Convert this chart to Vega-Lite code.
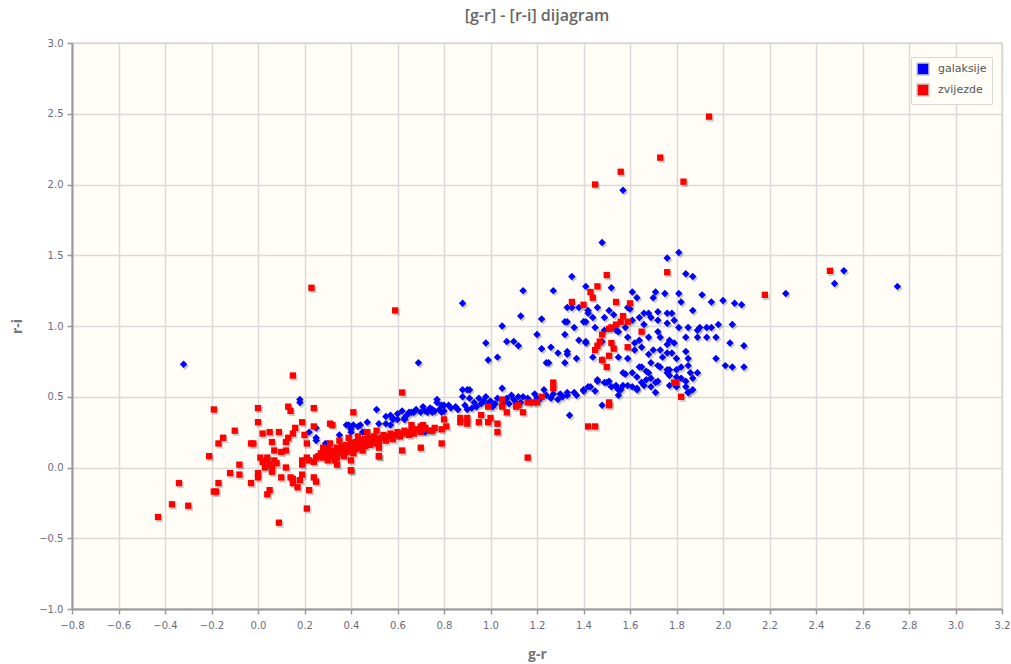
{
"$schema":"https://vega.github.io/schema/vega-lite/v6.json",
"width":930,"height":566,
"autosize":{"type":"none"},
"padding":{"left":72,"top":43,"right":9,"bottom":55},
"background":"#ffffff",
"title":{"text":"[g-r] - [r-i] dijagram","fontSize":16,"font":"Open Sans","fontWeight":600,"color":"#666666","offset":14,"anchor":"middle"},
"config":{
 "view":{"fill":"#fffdf6","stroke":"#d6d6d6","strokeWidth":1.5},
 "axis":{"domainColor":"#999999","domainWidth":2,"tickColor":"#999999","tickSize":5,"tickWidth":1.5,"gridColor":"#dadada","gridWidth":1.5,"labelFont":"DejaVu Sans","labelFontSize":10,"labelColor":"#6b6b7d","titleFont":"Open Sans","titleFontSize":14,"titleColor":"#777777","titleFontWeight":"bold","labelFlush":false,"labelOverlap":false}
},
"data":{"values":[
{"klasa":"galaksije","gr":-0.32,"ri":0.73},{"klasa":"galaksije","gr":1.57,"ri":1.96},{"klasa":"galaksije","gr":1.48,"ri":1.59},{"klasa":"galaksije","gr":1.81,"ri":1.52},{"klasa":"galaksije","gr":1.76,"ri":1.48},{"klasa":"galaksije","gr":1.14,"ri":1.25},{"klasa":"galaksije","gr":1.35,"ri":1.35},{"klasa":"galaksije","gr":0.88,"ri":1.16},{"klasa":"galaksije","gr":2.27,"ri":1.23},{"klasa":"galaksije","gr":2.48,"ri":1.30},{"klasa":"galaksije","gr":2.52,"ri":1.39},{"klasa":"galaksije","gr":2.75,"ri":1.28},{"klasa":"galaksije","gr":0.69,"ri":0.74},{"klasa":"galaksije","gr":0.18,"ri":0.48},
{"klasa":"galaksije","gr":0.18,"ri":0.46},{"klasa":"galaksije","gr":0.22,"ri":0.25},{"klasa":"galaksije","gr":0.25,"ri":0.28},{"klasa":"galaksije","gr":0.25,"ri":0.19},{"klasa":"galaksije","gr":0.29,"ri":0.17},{"klasa":"galaksije","gr":0.35,"ri":0.23},{"klasa":"galaksije","gr":0.39,"ri":0.30},{"klasa":"galaksije","gr":0.41,"ri":0.30},{"klasa":"galaksije","gr":0.44,"ri":0.30},{"klasa":"galaksije","gr":0.47,"ri":0.32},{"klasa":"galaksije","gr":0.51,"ri":0.41},{"klasa":"galaksije","gr":0.52,"ri":0.31},{"klasa":"galaksije","gr":0.57,"ri":0.37},{"klasa":"galaksije","gr":0.60,"ri":0.38},{"klasa":"galaksije","gr":0.60,"ri":0.34},{"klasa":"galaksije","gr":0.63,"ri":0.34},{"klasa":"galaksije","gr":0.66,"ri":0.39},{"klasa":"galaksije","gr":0.70,"ri":0.39},{"klasa":"galaksije","gr":0.73,"ri":0.39},{"klasa":"galaksije","gr":0.77,"ri":0.48},{"klasa":"galaksije","gr":0.80,"ri":0.44},{"klasa":"galaksije","gr":0.75,"ri":0.39},{"klasa":"galaksije","gr":0.79,"ri":0.39},{"klasa":"galaksije","gr":0.72,"ri":0.25},{"klasa":"galaksije","gr":0.57,"ri":0.30},{"klasa":"galaksije","gr":0.45,"ri":0.25},{"klasa":"galaksije","gr":0.40,"ri":0.25},
{"klasa":"galaksije","gr":0.99,"ri":0.76},{"klasa":"galaksije","gr":1.24,"ri":0.74},{"klasa":"galaksije","gr":1.32,"ri":0.74},{"klasa":"galaksije","gr":1.48,"ri":0.76},
{"klasa":"galaksije","gr":0.67,"ri":0.39},{"klasa":"galaksije","gr":0.72,"ri":0.40},{"klasa":"galaksije","gr":0.75,"ri":0.41},{"klasa":"galaksije","gr":0.77,"ri":0.46},{"klasa":"galaksije","gr":0.79,"ri":0.44},{"klasa":"galaksije","gr":0.83,"ri":0.42},{"klasa":"galaksije","gr":0.80,"ri":0.40},{"klasa":"galaksije","gr":0.88,"ri":0.55},{"klasa":"galaksije","gr":0.90,"ri":0.55},{"klasa":"galaksije","gr":0.88,"ri":0.50},{"klasa":"galaksije","gr":0.91,"ri":0.49},{"klasa":"galaksije","gr":0.89,"ri":0.44},{"klasa":"galaksije","gr":0.90,"ri":0.41},{"klasa":"galaksije","gr":0.92,"ri":0.42},{"klasa":"galaksije","gr":0.95,"ri":0.49},{"klasa":"galaksije","gr":0.96,"ri":0.45},{"klasa":"galaksije","gr":0.98,"ri":0.50},{"klasa":"galaksije","gr":0.99,"ri":0.45},{"klasa":"galaksije","gr":1.01,"ri":0.43},{"klasa":"galaksije","gr":1.03,"ri":0.49},{"klasa":"galaksije","gr":1.05,"ri":0.56},{"klasa":"galaksije","gr":1.05,"ri":0.44},{"klasa":"galaksije","gr":1.07,"ri":0.49},{"klasa":"galaksije","gr":1.09,"ri":0.51},{"klasa":"galaksije","gr":1.11,"ri":0.46},{"klasa":"galaksije","gr":1.12,"ri":0.50},{"klasa":"galaksije","gr":1.13,"ri":0.46},{"klasa":"galaksije","gr":1.16,"ri":0.49},{"klasa":"galaksije","gr":1.19,"ri":0.52},{"klasa":"galaksije","gr":1.21,"ri":0.48},{"klasa":"galaksije","gr":1.23,"ri":0.55},{"klasa":"galaksije","gr":1.26,"ri":0.49},{"klasa":"galaksije","gr":1.29,"ri":0.48},{"klasa":"galaksije","gr":1.33,"ri":0.53},{"klasa":"galaksije","gr":1.34,"ri":0.37},{"klasa":"galaksije","gr":1.36,"ri":0.53},{"klasa":"galaksije","gr":1.40,"ri":0.54},{"klasa":"galaksije","gr":1.42,"ri":0.57},{"klasa":"galaksije","gr":1.45,"ri":0.54},{"klasa":"galaksije","gr":1.46,"ri":0.61},{"klasa":"galaksije","gr":1.48,"ri":0.44},{"klasa":"galaksije","gr":1.50,"ri":0.60},{"klasa":"galaksije","gr":1.52,"ri":0.57},{"klasa":"galaksije","gr":1.54,"ri":0.58},{"klasa":"galaksije","gr":1.55,"ri":0.55},{"klasa":"galaksije","gr":1.57,"ri":0.67},{"klasa":"galaksije","gr":1.59,"ri":0.58},{"klasa":"galaksije","gr":1.61,"ri":0.67},{"klasa":"galaksije","gr":1.63,"ri":0.56},{"klasa":"galaksije","gr":1.64,"ri":0.71},{"klasa":"galaksije","gr":1.67,"ri":0.62},{"klasa":"galaksije","gr":1.68,"ri":0.67},{"klasa":"galaksije","gr":1.71,"ri":0.60},{"klasa":"galaksije","gr":1.72,"ri":0.72},{"klasa":"galaksije","gr":1.76,"ri":0.69},{"klasa":"galaksije","gr":1.77,"ri":0.65},{"klasa":"galaksije","gr":1.80,"ri":0.69},{"klasa":"galaksije","gr":1.82,"ri":0.71},{"klasa":"galaksije","gr":1.85,"ri":0.72},{"klasa":"galaksije","gr":1.86,"ri":0.67},{"klasa":"galaksije","gr":1.87,"ri":0.55},{"klasa":"galaksije","gr":1.85,"ri":0.53},{"klasa":"galaksije","gr":1.89,"ri":0.67},
{"klasa":"galaksije","gr":1.41,"ri":1.28},{"klasa":"galaksije","gr":1.52,"ri":1.27},{"klasa":"galaksije","gr":1.61,"ri":1.24},{"klasa":"galaksije","gr":1.63,"ri":1.20},{"klasa":"galaksije","gr":1.71,"ri":1.24},{"klasa":"galaksije","gr":1.70,"ri":1.20},{"klasa":"galaksije","gr":1.75,"ri":1.23},{"klasa":"galaksije","gr":1.81,"ri":1.23},{"klasa":"galaksije","gr":1.82,"ri":1.17},{"klasa":"galaksije","gr":1.84,"ri":1.37},{"klasa":"galaksije","gr":1.87,"ri":1.35},{"klasa":"galaksije","gr":1.91,"ri":1.22},{"klasa":"galaksije","gr":1.95,"ri":1.17},{"klasa":"galaksije","gr":2.00,"ri":1.18},{"klasa":"galaksije","gr":2.05,"ri":1.16},{"klasa":"galaksije","gr":2.08,"ri":1.15},
{"klasa":"galaksije","gr":1.33,"ri":1.13},{"klasa":"galaksije","gr":1.38,"ri":1.13},{"klasa":"galaksije","gr":1.42,"ri":1.11},{"klasa":"galaksije","gr":1.46,"ri":1.13},{"klasa":"galaksije","gr":1.51,"ri":1.11},{"klasa":"galaksije","gr":1.53,"ri":1.08},{"klasa":"galaksije","gr":1.59,"ri":1.13},{"klasa":"galaksije","gr":1.60,"ri":1.12},
{"klasa":"galaksije","gr":1.33,"ri":1.03},{"klasa":"galaksije","gr":1.36,"ri":0.99},{"klasa":"galaksije","gr":1.41,"ri":1.03},{"klasa":"galaksije","gr":1.44,"ri":1.06},{"klasa":"galaksije","gr":1.45,"ri":0.99},{"klasa":"galaksije","gr":1.49,"ri":1.06},{"klasa":"galaksije","gr":1.49,"ri":0.97},{"klasa":"galaksije","gr":1.54,"ri":0.97},{"klasa":"galaksije","gr":1.55,"ri":0.96},{"klasa":"galaksije","gr":1.58,"ri":0.99},{"klasa":"galaksije","gr":1.61,"ri":1.04},{"klasa":"galaksije","gr":1.64,"ri":1.06},{"klasa":"galaksije","gr":1.66,"ri":1.09},{"klasa":"galaksije","gr":1.68,"ri":1.09},{"klasa":"galaksije","gr":1.69,"ri":1.06},{"klasa":"galaksije","gr":1.72,"ri":1.10},{"klasa":"galaksije","gr":1.72,"ri":1.04},{"klasa":"galaksije","gr":1.66,"ri":1.01},{"klasa":"galaksije","gr":1.76,"ri":1.09},{"klasa":"galaksije","gr":1.78,"ri":1.09},{"klasa":"galaksije","gr":1.79,"ri":1.04},{"klasa":"galaksije","gr":1.76,"ri":1.02},{"klasa":"galaksije","gr":1.81,"ri":0.99},{"klasa":"galaksije","gr":1.85,"ri":0.99},{"klasa":"galaksije","gr":1.87,"ri":1.11},{"klasa":"galaksije","gr":1.89,"ri":0.97},{"klasa":"galaksije","gr":1.90,"ri":0.99},{"klasa":"galaksije","gr":1.93,"ri":0.99},{"klasa":"galaksije","gr":1.95,"ri":0.99},{"klasa":"galaksije","gr":1.98,"ri":1.01},{"klasa":"galaksije","gr":2.04,"ri":1.01},
{"klasa":"galaksije","gr":1.32,"ri":0.94},{"klasa":"galaksije","gr":1.38,"ri":0.90},{"klasa":"galaksije","gr":1.41,"ri":0.88},{"klasa":"galaksije","gr":1.48,"ri":0.89},{"klasa":"galaksije","gr":1.59,"ri":0.92},{"klasa":"galaksije","gr":1.62,"ri":0.88},{"klasa":"galaksije","gr":1.64,"ri":0.90},{"klasa":"galaksije","gr":1.68,"ri":0.92},{"klasa":"galaksije","gr":1.72,"ri":0.96},{"klasa":"galaksije","gr":1.73,"ri":0.92},{"klasa":"galaksije","gr":1.76,"ri":0.87},{"klasa":"galaksije","gr":1.77,"ri":0.90},{"klasa":"galaksije","gr":1.79,"ri":0.88},{"klasa":"galaksije","gr":1.84,"ri":0.92},{"klasa":"galaksije","gr":1.89,"ri":0.92},{"klasa":"galaksije","gr":1.93,"ri":0.92},{"klasa":"galaksije","gr":1.97,"ri":0.92},{"klasa":"galaksije","gr":2.03,"ri":0.88},{"klasa":"galaksije","gr":2.09,"ri":0.86},
{"klasa":"galaksije","gr":1.33,"ri":0.80},{"klasa":"galaksije","gr":1.37,"ri":0.77},{"klasa":"galaksije","gr":1.44,"ri":0.78},{"klasa":"galaksije","gr":1.55,"ri":0.78},{"klasa":"galaksije","gr":1.59,"ri":0.77},{"klasa":"galaksije","gr":1.62,"ri":0.83},{"klasa":"galaksije","gr":1.65,"ri":0.85},{"klasa":"galaksije","gr":1.68,"ri":0.80},{"klasa":"galaksije","gr":1.70,"ri":0.83},{"klasa":"galaksije","gr":1.73,"ri":0.83},{"klasa":"galaksije","gr":1.74,"ri":0.78},{"klasa":"galaksije","gr":1.76,"ri":0.81},{"klasa":"galaksije","gr":1.78,"ri":0.81},{"klasa":"galaksije","gr":1.80,"ri":0.77},{"klasa":"galaksije","gr":1.84,"ri":0.82},{"klasa":"galaksije","gr":1.85,"ri":0.77},{"klasa":"galaksije","gr":1.97,"ri":0.77},
{"klasa":"galaksije","gr":1.65,"ri":0.71},{"klasa":"galaksije","gr":1.69,"ri":0.74},{"klasa":"galaksije","gr":1.73,"ri":0.71},{"klasa":"galaksije","gr":1.77,"ri":0.69},{"klasa":"galaksije","gr":2.01,"ri":0.72},{"klasa":"galaksije","gr":2.04,"ri":0.71},{"klasa":"galaksije","gr":2.09,"ri":0.71},
{"klasa":"galaksije","gr":1.58,"ri":0.66},{"klasa":"galaksije","gr":1.63,"ri":0.64},{"klasa":"galaksije","gr":1.67,"ri":0.68},{"klasa":"galaksije","gr":1.69,"ri":0.63},{"klasa":"galaksije","gr":1.72,"ri":0.61},{"klasa":"galaksije","gr":1.76,"ri":0.67},{"klasa":"galaksije","gr":1.80,"ri":0.64},{"klasa":"galaksije","gr":1.82,"ri":0.63},{"klasa":"galaksije","gr":1.84,"ri":0.61},{"klasa":"galaksije","gr":1.87,"ri":0.63},
{"klasa":"galaksije","gr":1.46,"ri":0.62},{"klasa":"galaksije","gr":1.49,"ri":0.60},{"klasa":"galaksije","gr":1.51,"ri":0.61},{"klasa":"galaksije","gr":1.54,"ri":0.57},{"klasa":"galaksije","gr":1.57,"ri":0.58},{"klasa":"galaksije","gr":1.56,"ri":0.55},{"klasa":"galaksije","gr":1.61,"ri":0.57},{"klasa":"galaksije","gr":1.63,"ri":0.55},{"klasa":"galaksije","gr":1.65,"ri":0.60},{"klasa":"galaksije","gr":1.66,"ri":0.58},{"klasa":"galaksije","gr":1.69,"ri":0.57},{"klasa":"galaksije","gr":1.71,"ri":0.53},{"klasa":"galaksije","gr":1.77,"ri":0.58},{"klasa":"galaksije","gr":1.80,"ri":0.57},{"klasa":"galaksije","gr":1.84,"ri":0.57},{"klasa":"galaksije","gr":1.85,"ri":0.53},
{"klasa":"galaksije","gr":1.43,"ri":0.57},{"klasa":"galaksije","gr":1.40,"ri":0.55},{"klasa":"galaksije","gr":1.37,"ri":0.51},{"klasa":"galaksije","gr":1.33,"ri":0.51},{"klasa":"galaksije","gr":1.31,"ri":0.50},{"klasa":"galaksije","gr":1.55,"ri":0.51},
{"klasa":"galaksije","gr":1.13,"ri":1.07},{"klasa":"galaksije","gr":1.05,"ri":1.00},{"klasa":"galaksije","gr":1.22,"ri":1.05},{"klasa":"galaksije","gr":0.98,"ri":0.88},{"klasa":"galaksije","gr":1.07,"ri":0.89},{"klasa":"galaksije","gr":1.10,"ri":0.89},{"klasa":"galaksije","gr":1.12,"ri":0.86},{"klasa":"galaksije","gr":1.03,"ri":0.78},{"klasa":"galaksije","gr":1.20,"ri":0.94},{"klasa":"galaksije","gr":1.22,"ri":0.84},{"klasa":"galaksije","gr":1.26,"ri":0.85},{"klasa":"galaksije","gr":1.29,"ri":0.81},{"klasa":"galaksije","gr":1.25,"ri":0.74},{"klasa":"galaksije","gr":1.32,"ri":1.03},{"klasa":"galaksije","gr":1.27,"ri":1.25},{"klasa":"galaksije","gr":1.33,"ri":0.82},{"klasa":"galaksije","gr":1.41,"ri":0.89},{"klasa":"galaksije","gr":1.40,"ri":1.03},{"klasa":"galaksije","gr":1.35,"ri":1.13},{"klasa":"galaksije","gr":1.42,"ri":1.09},{"klasa":"galaksije","gr":0.91,"ri":0.55},
{"klasa":"galaksije","gr":0.55,"ri":0.36},{"klasa":"galaksije","gr":0.58,"ri":0.35},{"klasa":"galaksije","gr":0.62,"ri":0.40},{"klasa":"galaksije","gr":0.64,"ri":0.37},{"klasa":"galaksije","gr":0.68,"ri":0.41},{"klasa":"galaksije","gr":0.71,"ri":0.43},{"klasa":"galaksije","gr":0.74,"ri":0.42},{"klasa":"galaksije","gr":0.76,"ri":0.40},{"klasa":"galaksije","gr":0.78,"ri":0.41},{"klasa":"galaksije","gr":0.82,"ri":0.44},{"klasa":"galaksije","gr":0.85,"ri":0.43},{"klasa":"galaksije","gr":0.86,"ri":0.41},{"klasa":"galaksije","gr":0.93,"ri":0.46},{"klasa":"galaksije","gr":0.94,"ri":0.43},{"klasa":"galaksije","gr":0.97,"ri":0.47},{"klasa":"galaksije","gr":1.00,"ri":0.47},{"klasa":"galaksije","gr":1.02,"ri":0.45},{"klasa":"galaksije","gr":1.06,"ri":0.47},{"klasa":"galaksije","gr":1.08,"ri":0.45},{"klasa":"galaksije","gr":1.10,"ri":0.48},{"klasa":"galaksije","gr":1.14,"ri":0.50},{"klasa":"galaksije","gr":1.17,"ri":0.47},{"klasa":"galaksije","gr":1.20,"ri":0.49},{"klasa":"galaksije","gr":1.24,"ri":0.51},{"klasa":"galaksije","gr":1.27,"ri":0.52},{"klasa":"galaksije","gr":1.30,"ri":0.52},
{"klasa":"galaksije","gr":0.38,"ri":0.30},{"klasa":"galaksije","gr":0.43,"ri":0.29},{"klasa":"galaksije","gr":0.40,"ri":0.27},{"klasa":"galaksije","gr":0.46,"ri":0.25},{"klasa":"galaksije","gr":0.55,"ri":0.31},{"klasa":"galaksije","gr":0.58,"ri":0.34},{"klasa":"galaksije","gr":0.63,"ri":0.35},{"klasa":"galaksije","gr":0.65,"ri":0.39},{"klasa":"galaksije","gr":0.30,"ri":0.17},{"klasa":"galaksije","gr":0.25,"ri":0.21},
{"klasa":"zvijezde","gr":0.23,"ri":1.27},{"klasa":"zvijezde","gr":0.59,"ri":1.11},{"klasa":"zvijezde","gr":1.94,"ri":2.48},{"klasa":"zvijezde","gr":1.73,"ri":2.19},{"klasa":"zvijezde","gr":1.56,"ri":2.09},{"klasa":"zvijezde","gr":1.83,"ri":2.02},{"klasa":"zvijezde","gr":1.45,"ri":2.00},{"klasa":"zvijezde","gr":2.18,"ri":1.22},{"klasa":"zvijezde","gr":2.46,"ri":1.39},{"klasa":"zvijezde","gr":-0.43,"ri":-0.35},{"klasa":"zvijezde","gr":0.15,"ri":0.65},{"klasa":"zvijezde","gr":1.16,"ri":0.07},{"klasa":"zvijezde","gr":1.45,"ri":0.29},{"klasa":"zvijezde","gr":1.42,"ri":0.29},{"klasa":"zvijezde","gr":1.51,"ri":0.46},{"klasa":"zvijezde","gr":1.82,"ri":0.50},{"klasa":"zvijezde","gr":0.09,"ri":-0.39},{"klasa":"zvijezde","gr":0.21,"ri":-0.29},
{"klasa":"zvijezde","gr":-0.37,"ri":-0.26},{"klasa":"zvijezde","gr":-0.30,"ri":-0.27},{"klasa":"zvijezde","gr":-0.34,"ri":-0.11},{"klasa":"zvijezde","gr":-0.19,"ri":-0.17},{"klasa":"zvijezde","gr":-0.18,"ri":-0.17},{"klasa":"zvijezde","gr":-0.17,"ri":-0.11},{"klasa":"zvijezde","gr":-0.21,"ri":0.08},{"klasa":"zvijezde","gr":-0.19,"ri":0.41},{"klasa":"zvijezde","gr":-0.17,"ri":0.17},{"klasa":"zvijezde","gr":-0.15,"ri":0.21},{"klasa":"zvijezde","gr":-0.10,"ri":0.26},{"klasa":"zvijezde","gr":-0.12,"ri":-0.04},{"klasa":"zvijezde","gr":-0.08,"ri":-0.05},{"klasa":"zvijezde","gr":-0.08,"ri":0.02},{"klasa":"zvijezde","gr":0.00,"ri":0.32},{"klasa":"zvijezde","gr":0.00,"ri":0.42},{"klasa":"zvijezde","gr":-0.03,"ri":0.17},{"klasa":"zvijezde","gr":-0.02,"ri":0.17},{"klasa":"zvijezde","gr":-0.03,"ri":-0.11},{"klasa":"zvijezde","gr":0.00,"ri":-0.07},{"klasa":"zvijezde","gr":0.00,"ri":-0.04},{"klasa":"zvijezde","gr":0.04,"ri":-0.19},{"klasa":"zvijezde","gr":0.05,"ri":-0.16},{"klasa":"zvijezde","gr":0.01,"ri":0.07},{"klasa":"zvijezde","gr":0.02,"ri":0.04},{"klasa":"zvijezde","gr":0.04,"ri":0.05},{"klasa":"zvijezde","gr":0.05,"ri":0.02},{"klasa":"zvijezde","gr":0.03,"ri":0.00},{"klasa":"zvijezde","gr":0.06,"ri":0.00},{"klasa":"zvijezde","gr":0.08,"ri":0.03},{"klasa":"zvijezde","gr":0.07,"ri":0.05},{"klasa":"zvijezde","gr":0.04,"ri":0.07},{"klasa":"zvijezde","gr":0.06,"ri":-0.03},{"klasa":"zvijezde","gr":0.02,"ri":0.24},{"klasa":"zvijezde","gr":0.05,"ri":0.25},{"klasa":"zvijezde","gr":0.09,"ri":0.25},{"klasa":"zvijezde","gr":0.06,"ri":0.18},{"klasa":"zvijezde","gr":0.07,"ri":0.12},{"klasa":"zvijezde","gr":0.10,"ri":0.11},{"klasa":"zvijezde","gr":0.12,"ri":0.12},{"klasa":"zvijezde","gr":0.12,"ri":0.18},{"klasa":"zvijezde","gr":0.13,"ri":0.21},{"klasa":"zvijezde","gr":0.15,"ri":0.24},{"klasa":"zvijezde","gr":0.16,"ri":0.28},{"klasa":"zvijezde","gr":0.13,"ri":0.43},{"klasa":"zvijezde","gr":0.14,"ri":0.40},{"klasa":"zvijezde","gr":0.19,"ri":0.32},{"klasa":"zvijezde","gr":0.10,"ri":-0.07},{"klasa":"zvijezde","gr":0.14,"ri":-0.07},{"klasa":"zvijezde","gr":0.12,"ri":0.00},{"klasa":"zvijezde","gr":0.15,"ri":-0.11},{"klasa":"zvijezde","gr":0.17,"ri":-0.14},{"klasa":"zvijezde","gr":0.18,"ri":-0.09},{"klasa":"zvijezde","gr":0.15,"ri":-0.08},{"klasa":"zvijezde","gr":0.19,"ri":-0.05},{"klasa":"zvijezde","gr":0.19,"ri":0.02},{"klasa":"zvijezde","gr":0.19,"ri":0.05},{"klasa":"zvijezde","gr":0.21,"ri":0.07},{"klasa":"zvijezde","gr":0.22,"ri":-0.16},{"klasa":"zvijezde","gr":0.24,"ri":-0.07},{"klasa":"zvijezde","gr":0.25,"ri":-0.10},{"klasa":"zvijezde","gr":0.24,"ri":0.42},{"klasa":"zvijezde","gr":0.20,"ri":0.23},{"klasa":"zvijezde","gr":0.21,"ri":0.17},{"klasa":"zvijezde","gr":0.24,"ri":0.29},{"klasa":"zvijezde","gr":0.22,"ri":0.05},{"klasa":"zvijezde","gr":0.24,"ri":0.04},{"klasa":"zvijezde","gr":0.25,"ri":0.07},
{"klasa":"zvijezde","gr":0.26,"ri":0.08},{"klasa":"zvijezde","gr":0.27,"ri":0.10},{"klasa":"zvijezde","gr":0.28,"ri":0.07},{"klasa":"zvijezde","gr":0.29,"ri":0.11},{"klasa":"zvijezde","gr":0.30,"ri":0.09},{"klasa":"zvijezde","gr":0.30,"ri":0.13},{"klasa":"zvijezde","gr":0.31,"ri":0.08},{"klasa":"zvijezde","gr":0.32,"ri":0.12},{"klasa":"zvijezde","gr":0.33,"ri":0.10},{"klasa":"zvijezde","gr":0.34,"ri":0.14},{"klasa":"zvijezde","gr":0.34,"ri":0.07},{"klasa":"zvijezde","gr":0.35,"ri":0.12},{"klasa":"zvijezde","gr":0.36,"ri":0.15},{"klasa":"zvijezde","gr":0.36,"ri":0.10},{"klasa":"zvijezde","gr":0.37,"ri":0.13},{"klasa":"zvijezde","gr":0.38,"ri":0.11},{"klasa":"zvijezde","gr":0.38,"ri":0.16},{"klasa":"zvijezde","gr":0.39,"ri":0.14},{"klasa":"zvijezde","gr":0.40,"ri":0.12},{"klasa":"zvijezde","gr":0.40,"ri":0.17},{"klasa":"zvijezde","gr":0.41,"ri":0.15},{"klasa":"zvijezde","gr":0.42,"ri":0.13},{"klasa":"zvijezde","gr":0.42,"ri":0.18},{"klasa":"zvijezde","gr":0.43,"ri":0.16},{"klasa":"zvijezde","gr":0.44,"ri":0.14},{"klasa":"zvijezde","gr":0.44,"ri":0.19},{"klasa":"zvijezde","gr":0.45,"ri":0.17},{"klasa":"zvijezde","gr":0.46,"ri":0.15},{"klasa":"zvijezde","gr":0.46,"ri":0.20},{"klasa":"zvijezde","gr":0.47,"ri":0.18},{"klasa":"zvijezde","gr":0.48,"ri":0.16},{"klasa":"zvijezde","gr":0.48,"ri":0.21},{"klasa":"zvijezde","gr":0.49,"ri":0.19},{"klasa":"zvijezde","gr":0.50,"ri":0.17},{"klasa":"zvijezde","gr":0.50,"ri":0.22},{"klasa":"zvijezde","gr":0.51,"ri":0.20},{"klasa":"zvijezde","gr":0.52,"ri":0.18},{"klasa":"zvijezde","gr":0.53,"ri":0.21},{"klasa":"zvijezde","gr":0.54,"ri":0.23},{"klasa":"zvijezde","gr":0.55,"ri":0.19},{"klasa":"zvijezde","gr":0.56,"ri":0.22},{"klasa":"zvijezde","gr":0.57,"ri":0.24},{"klasa":"zvijezde","gr":0.58,"ri":0.20},{"klasa":"zvijezde","gr":0.59,"ri":0.23},{"klasa":"zvijezde","gr":0.60,"ri":0.25},{"klasa":"zvijezde","gr":0.61,"ri":0.22},{"klasa":"zvijezde","gr":0.62,"ri":0.24},{"klasa":"zvijezde","gr":0.63,"ri":0.26},{"klasa":"zvijezde","gr":0.65,"ri":0.23},{"klasa":"zvijezde","gr":0.66,"ri":0.26},{"klasa":"zvijezde","gr":0.68,"ri":0.27},{"klasa":"zvijezde","gr":0.70,"ri":0.25},{"klasa":"zvijezde","gr":0.72,"ri":0.28},{"klasa":"zvijezde","gr":0.74,"ri":0.26},{"klasa":"zvijezde","gr":0.76,"ri":0.28},{"klasa":"zvijezde","gr":0.79,"ri":0.27},{"klasa":"zvijezde","gr":0.81,"ri":0.29},{"klasa":"zvijezde","gr":0.33,"ri":0.05},{"klasa":"zvijezde","gr":0.37,"ri":0.08},{"klasa":"zvijezde","gr":0.41,"ri":0.10},{"klasa":"zvijezde","gr":0.45,"ri":0.12},{"klasa":"zvijezde","gr":0.52,"ri":0.14},{"klasa":"zvijezde","gr":0.28,"ri":0.14},{"klasa":"zvijezde","gr":0.31,"ri":0.17},{"klasa":"zvijezde","gr":0.35,"ri":0.19},{"klasa":"zvijezde","gr":0.39,"ri":0.21},{"klasa":"zvijezde","gr":0.43,"ri":0.22},{"klasa":"zvijezde","gr":0.47,"ri":0.25},{"klasa":"zvijezde","gr":0.51,"ri":0.26},{"klasa":"zvijezde","gr":0.30,"ri":0.05},{"klasa":"zvijezde","gr":0.34,"ri":0.02},{"klasa":"zvijezde","gr":0.40,"ri":-0.02},{"klasa":"zvijezde","gr":0.32,"ri":0.30},{"klasa":"zvijezde","gr":0.41,"ri":0.39},{"klasa":"zvijezde","gr":0.62,"ri":0.53},{"klasa":"zvijezde","gr":0.40,"ri":0.05},{"klasa":"zvijezde","gr":0.52,"ri":0.08},{"klasa":"zvijezde","gr":0.62,"ri":0.12},{"klasa":"zvijezde","gr":0.70,"ri":0.14},{"klasa":"zvijezde","gr":0.79,"ri":0.17},{"klasa":"zvijezde","gr":0.80,"ri":0.34},
{"klasa":"zvijezde","gr":0.64,"ri":0.25},{"klasa":"zvijezde","gr":0.67,"ri":0.24},{"klasa":"zvijezde","gr":0.70,"ri":0.29},{"klasa":"zvijezde","gr":0.71,"ri":0.27},{"klasa":"zvijezde","gr":0.87,"ri":0.32},{"klasa":"zvijezde","gr":0.90,"ri":0.35},{"klasa":"zvijezde","gr":0.90,"ri":0.31},{"klasa":"zvijezde","gr":0.95,"ri":0.32},{"klasa":"zvijezde","gr":0.99,"ri":0.32},{"klasa":"zvijezde","gr":1.00,"ri":0.35},{"klasa":"zvijezde","gr":0.96,"ri":0.37},{"klasa":"zvijezde","gr":0.99,"ri":0.43},{"klasa":"zvijezde","gr":1.03,"ri":0.31},{"klasa":"zvijezde","gr":1.03,"ri":0.25},{"klasa":"zvijezde","gr":1.05,"ri":0.43},{"klasa":"zvijezde","gr":1.05,"ri":0.48},{"klasa":"zvijezde","gr":1.07,"ri":0.39},{"klasa":"zvijezde","gr":1.11,"ri":0.43},{"klasa":"zvijezde","gr":1.12,"ri":0.44},{"klasa":"zvijezde","gr":1.14,"ri":0.39},{"klasa":"zvijezde","gr":1.16,"ri":0.46},{"klasa":"zvijezde","gr":1.18,"ri":0.46},{"klasa":"zvijezde","gr":1.20,"ri":0.46},{"klasa":"zvijezde","gr":1.22,"ri":0.50},{"klasa":"zvijezde","gr":1.27,"ri":0.60},{"klasa":"zvijezde","gr":1.27,"ri":0.56},{"klasa":"zvijezde","gr":1.50,"ri":0.71},{"klasa":"zvijezde","gr":1.80,"ri":0.60},{"klasa":"zvijezde","gr":0.87,"ri":0.35},{"klasa":"zvijezde","gr":0.66,"ri":0.30},{"klasa":"zvijezde","gr":0.71,"ri":0.30},{"klasa":"zvijezde","gr":0.75,"ri":0.26},{"klasa":"zvijezde","gr":0.52,"ri":0.08},{"klasa":"zvijezde","gr":0.40,"ri":-0.02},{"klasa":"zvijezde","gr":0.31,"ri":0.31},
{"klasa":"zvijezde","gr":1.50,"ri":1.36},{"klasa":"zvijezde","gr":1.46,"ri":1.28},{"klasa":"zvijezde","gr":1.43,"ri":1.24},{"klasa":"zvijezde","gr":1.44,"ri":1.20},{"klasa":"zvijezde","gr":1.35,"ri":1.17},{"klasa":"zvijezde","gr":1.40,"ri":1.15},{"klasa":"zvijezde","gr":1.54,"ri":1.17},{"klasa":"zvijezde","gr":1.60,"ri":1.16},{"klasa":"zvijezde","gr":1.76,"ri":1.38},{"klasa":"zvijezde","gr":1.57,"ri":1.07},{"klasa":"zvijezde","gr":1.56,"ri":1.03},{"klasa":"zvijezde","gr":1.54,"ri":1.01},{"klasa":"zvijezde","gr":1.52,"ri":0.99},{"klasa":"zvijezde","gr":1.59,"ri":1.03},{"klasa":"zvijezde","gr":1.51,"ri":0.98},{"klasa":"zvijezde","gr":1.48,"ri":0.94},{"klasa":"zvijezde","gr":1.47,"ri":0.89},{"klasa":"zvijezde","gr":1.52,"ri":0.88},{"klasa":"zvijezde","gr":1.46,"ri":0.86},{"klasa":"zvijezde","gr":1.45,"ri":0.83},{"klasa":"zvijezde","gr":1.53,"ri":0.84},{"klasa":"zvijezde","gr":1.48,"ri":0.76},{"klasa":"zvijezde","gr":1.51,"ri":0.79},{"klasa":"zvijezde","gr":1.59,"ri":0.85},{"klasa":"zvijezde","gr":1.65,"ri":0.96},{"klasa":"zvijezde","gr":1.79,"ri":0.60},{"klasa":"zvijezde","gr":1.51,"ri":0.44}
]},
"encoding":{
 "x":{"field":"gr","type":"quantitative","title":"g-r","scale":{"domain":[-0.8,3.2],"nice":false,"zero":false},"axis":{"values":[-0.8,-0.6,-0.4,-0.2,0,0.2,0.4,0.6,0.8,1,1.2,1.4,1.6,1.8,2,2.2,2.4,2.6,2.8,3,3.2],"format":".1f","labelPadding":6,"titlePadding":17}},
 "y":{"field":"ri","type":"quantitative","title":"r-i","scale":{"domain":[-1,3],"nice":false,"zero":false},"axis":{"values":[-1,-0.5,0,0.5,1,1.5,2,2.5,3],"format":".1f","labelPadding":4,"titlePadding":14}}
},
"layer":[
 {"transform":[{"filter":"datum.klasa === 'galaksije'"}],"mark":{"type":"point","shape":"diamond","size":56,"filled":true,"color":"#000000","opacity":0.2,"xOffset":1.5,"yOffset":2}},
 {"transform":[{"filter":"datum.klasa === 'zvijezde'"}],"mark":{"type":"point","shape":"square","size":40,"filled":true,"color":"#000000","opacity":0.2,"xOffset":1.5,"yOffset":2}},
 {"transform":[{"filter":"datum.klasa === 'galaksije'"}],"mark":{"type":"point","shape":"diamond","size":56,"filled":true,"opacity":1},
  "encoding":{"color":{"field":"klasa","type":"nominal","scale":{"domain":["galaksije","zvijezde"],"range":["#0000ff","#ff0000"]},
   "legend":{"title":null,"orient":"none","legendX":839,"legendY":14,"symbolType":"square","symbolSize":144,"symbolStrokeColor":"#cccccc","symbolStrokeWidth":1.5,"symbolOpacity":1,"labelFont":"DejaVu Sans","labelFontSize":11,"labelColor":"#555555","fillColor":"#fffdf6","strokeColor":"#d8d8d8","padding":5,"rowPadding":3,"labelOffset":8}}}},
 {"transform":[{"filter":"datum.klasa === 'zvijezde'"}],"mark":{"type":"point","shape":"square","size":40,"filled":true,"opacity":1},
  "encoding":{"color":{"field":"klasa","type":"nominal"}}}
]
}
